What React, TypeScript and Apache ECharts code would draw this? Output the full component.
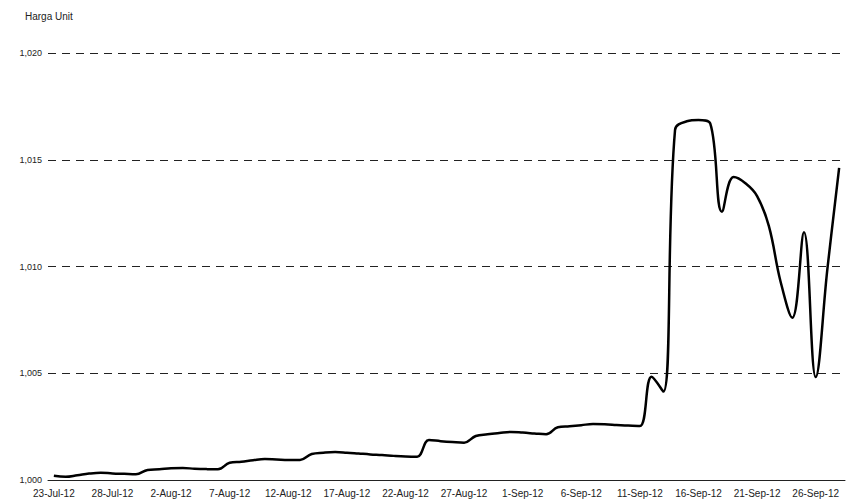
import React, { useEffect, useRef } from "react";
import * as echarts from "echarts";

const dates: string[] = [
  "23-Jul-12", "24-Jul-12", "25-Jul-12", "26-Jul-12", "27-Jul-12", "28-Jul-12", "29-Jul-12",
  "30-Jul-12", "31-Jul-12", "1-Aug-12", "2-Aug-12", "3-Aug-12", "4-Aug-12", "5-Aug-12",
  "6-Aug-12", "7-Aug-12", "8-Aug-12", "9-Aug-12", "10-Aug-12", "11-Aug-12", "12-Aug-12",
  "13-Aug-12", "14-Aug-12", "15-Aug-12", "16-Aug-12", "17-Aug-12", "18-Aug-12", "19-Aug-12",
  "20-Aug-12", "21-Aug-12", "22-Aug-12", "23-Aug-12", "24-Aug-12", "25-Aug-12", "26-Aug-12",
  "27-Aug-12", "28-Aug-12", "29-Aug-12", "30-Aug-12", "31-Aug-12", "1-Sep-12", "2-Sep-12",
  "3-Sep-12", "4-Sep-12", "5-Sep-12", "6-Sep-12", "7-Sep-12", "8-Sep-12", "9-Sep-12",
  "10-Sep-12", "11-Sep-12", "12-Sep-12", "13-Sep-12", "14-Sep-12", "15-Sep-12", "16-Sep-12",
  "17-Sep-12", "18-Sep-12", "19-Sep-12", "20-Sep-12", "21-Sep-12", "22-Sep-12", "23-Sep-12",
  "24-Sep-12", "25-Sep-12", "26-Sep-12", "27-Sep-12", "28-Sep-12",
];

const hargaUnit: number[] = [
  1000.2, 1000.15, 1000.22, 1000.3, 1000.34, 1000.31, 1000.29,
  1000.27, 1000.47, 1000.5, 1000.55, 1000.56, 1000.53, 1000.51,
  1000.5, 1000.81, 1000.86, 1000.93, 1000.98, 1000.96, 1000.94,
  1000.94, 1001.22, 1001.28, 1001.31, 1001.28, 1001.24, 1001.2,
  1001.17, 1001.13, 1001.1, 1001.09, 1001.87, 1001.82, 1001.78,
  1001.75, 1002.06, 1002.14, 1002.2, 1002.25, 1002.22, 1002.18,
  1002.14, 1002.47, 1002.52, 1002.57, 1002.62, 1002.61, 1002.58,
  1002.55, 1002.53, 1004.84, 1004.14, 1016.4, 1016.8, 1016.86,
  1016.7, 1012.57, 1014.19, 1013.9, 1013.3, 1011.9, 1009.3,
  1007.6, 1011.6, 1004.82, 1009.9, 1014.62,
];

const yMin = 1000;
const yMax = 1020;
const yStep = 5;
const axisTitle = "Harga Unit";

export default function App() {
  const ref = useRef<HTMLDivElement>(null);
  useEffect(() => {
    if (!ref.current) return;
    const chart = echarts.init(ref.current, null, { renderer: "svg" });
    const font = "'Liberation Sans', Arial, sans-serif";
    chart.setOption({
      animation: false,
      backgroundColor: "#ffffff",
      title: {
        text: axisTitle,
        left: 20,
        top: 6,
        textStyle: { fontSize: 10, fontWeight: "normal", color: "#222", fontFamily: font },
      },
      grid: { left: 48, right: 1, top: 53, bottom: 23, containLabel: false },
      xAxis: {
        type: "category",
        data: dates,
        boundaryGap: true,
        axisLine: { lineStyle: { color: "#222", width: 1 } },
        axisTick: { interval: 4, length: 5, lineStyle: { color: "#222" } },
        axisLabel: { interval: 4, fontSize: 10, color: "#222", fontFamily: font, margin: 8 },
        splitLine: { show: false },
      },
      yAxis: {
        type: "value",
        min: yMin,
        max: yMax,
        interval: yStep,
        axisLine: { show: false },
        axisTick: { show: false },
        axisLabel: {
          fontSize: 9,
          color: "#222",
          fontFamily: font,
          margin: 6,
          formatter: (v: number) => v.toLocaleString("en-US"),
        },
        splitLine: { lineStyle: { color: "#222", type: [8, 6], width: 1 } },
      },
      series: [
        {
          type: "line",
          data: hargaUnit,
          smooth: 0.4,
          showSymbol: false,
          lineStyle: { color: "#000", width: 2.5 },
        },
      ],
    });
    return () => chart.dispose();
  }, []);
  return (
    <div
      ref={ref}
      style={{ position: "fixed", left: 0, top: 0, width: 846, height: 503 }}
    />
  );
}
